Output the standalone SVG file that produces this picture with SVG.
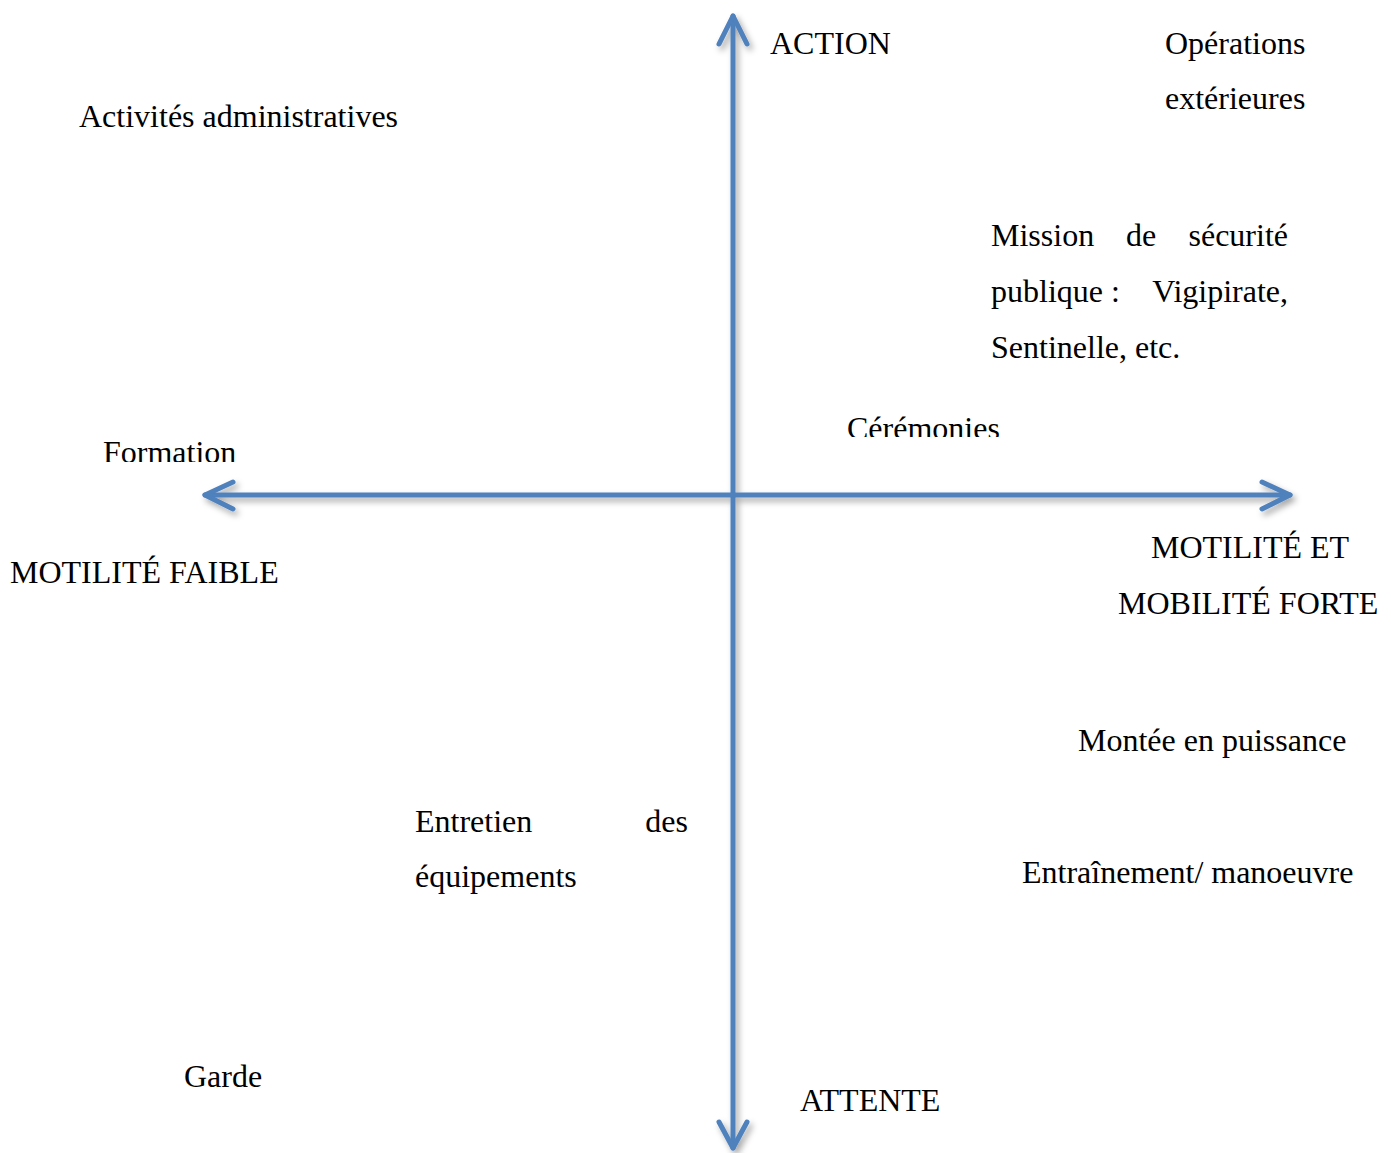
<svg xmlns="http://www.w3.org/2000/svg" width="1391" height="1153" viewBox="0 0 1391 1153">
<style>
text{font-family:"Liberation Serif","Times New Roman",serif;font-size:32px;fill:#000}
.ax{stroke:#4f81bd;stroke-width:5;fill:none;stroke-linecap:round;stroke-linejoin:round}
</style>
<defs>
<filter id="sh" x="-10%" y="-10%" width="120%" height="120%">
<feDropShadow dx="3" dy="4" stdDeviation="3" flood-color="#000" flood-opacity="0.35"/>
</filter>
<clipPath id="c1"><rect x="800" y="400" width="250" height="37"/></clipPath>
<clipPath id="c2"><rect x="80" y="425" width="200" height="37"/></clipPath>
</defs>
<rect width="1391" height="1153" fill="#fff"/>
<g id="connectors" filter="url(#sh)">
<path class="ax" d="M733,16 V1148"/>
<path class="ax" d="M719,44 L733,16 L747,44"/>
<path class="ax" d="M719,1122 L733,1148 L747,1122"/>
<path class="ax" d="M205,495 H1290"/>
<path class="ax" d="M233,482 L205,495 L233,509"/>
<path class="ax" d="M1262,482 L1290,495 L1262,509"/>
</g>
<g id="action"><text x="770" y="54">ACTION</text></g>
<g id="attente"><text x="800" y="1111">ATTENTE</text></g>
<g id="motilite-faible"><text x="10" y="583">MOTILITÉ FAIBLE</text></g>
<g id="motilite-forte"><text x="1151" y="558">MOTILITÉ ET</text><text x="1118" y="614">MOBILITÉ FORTE</text></g>
<g id="operations"><text x="1165" y="54">Opérations</text><text x="1165" y="109">extérieures</text></g>
<g id="activites"><text x="79" y="127">Activités administratives</text></g>
<g id="mission"><text x="991" y="246">Mission</text><text x="1126" y="246">de</text><text x="1288" y="246" text-anchor="end">sécurité</text><text x="991" y="302">publique :</text><text x="1288" y="302" text-anchor="end">Vigipirate,</text><text x="991" y="358">Sentinelle, etc.</text></g>
<g id="ceremonies" clip-path="url(#c1)"><text x="847" y="439">Cérémonies</text></g>
<g id="formation" clip-path="url(#c2)"><text x="103" y="463">Formation</text></g>
<g id="montee"><text x="1078" y="751">Montée en puissance</text></g>
<g id="entretien"><text x="415" y="832">Entretien</text><text x="688" y="832" text-anchor="end">des</text><text x="415" y="887">équipements</text></g>
<g id="entrainement"><text x="1022" y="883">Entraînement/ manoeuvre</text></g>
<g id="garde"><text x="184" y="1087">Garde</text></g>
</svg>
